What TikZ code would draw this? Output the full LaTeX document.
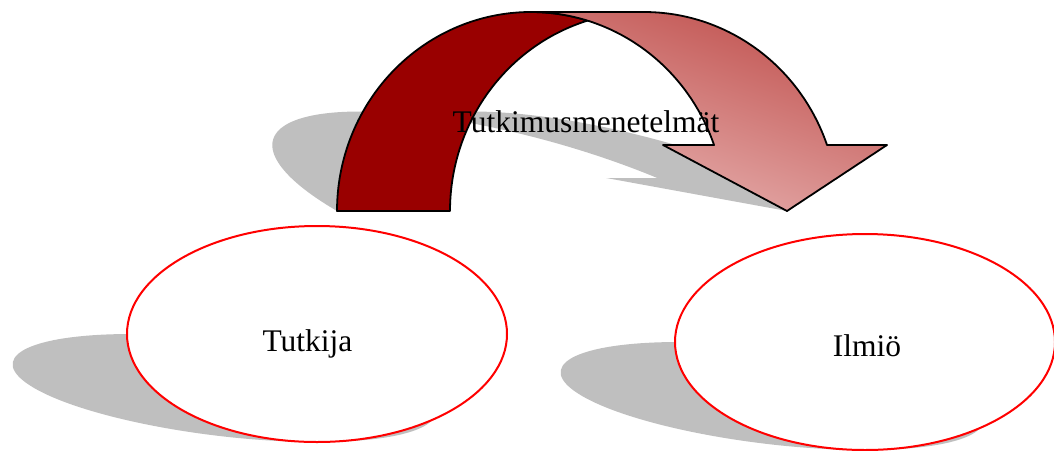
\documentclass[tikz,border=0pt]{standalone}
\usepackage{fontspec}
\setmainfont{Liberation Serif}
\usetikzlibrary{shapes.geometric}
\definecolor{legred}{HTML}{990000}
\definecolor{bodytop}{HTML}{C0504D}
\definecolor{bodybot}{HTML}{E8B4B3}
\definecolor{shadowgray}{HTML}{BFBFBF}
\begin{document}
\begin{tikzpicture}[x=1pt,y=-1pt,
  ell/.style={ellipse, draw=red, line width=2pt, fill=white,
    minimum width=380pt, minimum height=216pt, inner sep=0pt},
  lbl/.style={font=\fontsize{31.5}{38}\selectfont, inner sep=0pt, text=black},
  shadowfill/.style={fill=shadowgray},
  outline/.style={draw=black, line width=1.8pt, line join=round},
  legfill/.style={outline, fill=legred},
  bodyfill/.style={outline, top color=bodytop, bottom color=bodybot, shading angle=-20},
  persp/.style={shift={(0,#1)}, cm={1,0,-0.86,0.5,(0,0)}, shift={(0,-#1)}}
]
\useasboundingbox (0,0) rectangle (1054,450);

% shadow of the curved arrow
\begin{scope}[persp=211]
  \fill[shadowfill]
    plot[domain=180:286.93, samples=60, variable=\t] ({531+194*cos(\t)},{211+199*sin(\t)})
    -- plot[domain=253.07:180, samples=60, variable=\t] ({644+194*cos(\t)},{211+199*sin(\t)})
    -- cycle;
  \fill[shadowfill] (531,12) -- (644,12)
    -- plot[domain=270:340.63, samples=60, variable=\t] ({644+194*cos(\t)},{211+199*sin(\t)})
    -- (887,145) -- (787,211) -- (663,145)
    -- plot[domain=340.63:270, samples=60, variable=\t] ({531+194*cos(\t)},{211+199*sin(\t)})
    -- cycle;
\end{scope}

% curved arrow: dark leg
\path[legfill]
    plot[domain=180:286.93, samples=80, variable=\t] ({531+194*cos(\t)},{211+199*sin(\t)})
    -- plot[domain=253.07:180, samples=80, variable=\t] ({644+194*cos(\t)},{211+199*sin(\t)})
    -- cycle;
% curved arrow: body with head
\path[bodyfill] (531,12) -- (644,12)
    -- plot[domain=270:340.63, samples=80, variable=\t] ({644+194*cos(\t)},{211+199*sin(\t)})
    -- (887,145) -- (787,211) -- (663,145)
    -- plot[domain=340.63:270, samples=80, variable=\t] ({531+194*cos(\t)},{211+199*sin(\t)})
    -- cycle;

\node[lbl, anchor=base] (menetelmat) at (586,132) {Tutkimusmenetelmät};

% ellipse shadows
\begin{scope}[persp=442]
  \fill[shadowfill] (317,334) ellipse [x radius=190, y radius=108];
\end{scope}
\begin{scope}[persp=450]
  \fill[shadowfill] (865,342) ellipse [x radius=190, y radius=108];
\end{scope}

% ellipses
\node[ell] (tutkija) at (317,334) {};
\node[ell] (ilmio) at (865,342) {};
\node[lbl, anchor=base] (tutkijaLbl) at (307.5,351.7) {Tutkija};
\node[lbl, anchor=base] (ilmioLbl) at (867,356) {Ilmiö};
\end{tikzpicture}
\end{document}
